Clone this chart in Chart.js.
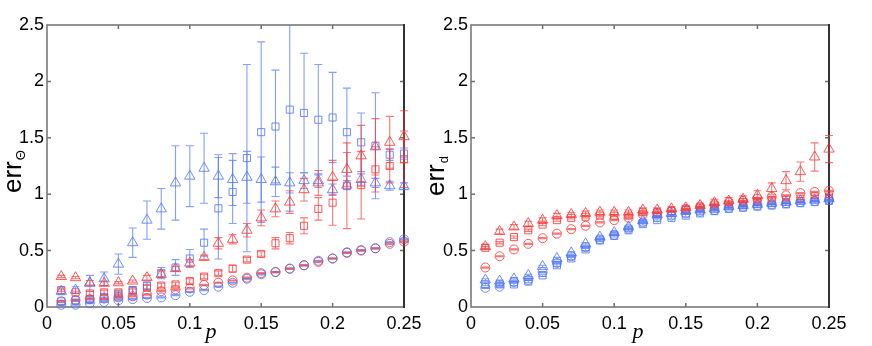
<!DOCTYPE html>
<html>
<head>
<meta charset="utf-8">
<script src="https://cdn.jsdelivr.net/npm/chart.js@4.4.1/dist/chart.umd.min.js"></script>
<style>
  html, body { margin: 0; padding: 0; background: #fff; }
  #wrap { position: relative; width: 872px; height: 346px; overflow: hidden; }
  canvas { position: absolute; top: 0; }
  #leftChart { left: 0; }
  #rightChart { left: 426px; }
</style>
</head>
<body>
<div id="wrap">
  <canvas id="leftChart" width="436" height="346"></canvas>
  <canvas id="rightChart" width="446" height="346"></canvas>
</div>
<script>
// ---- data ----
const pValues = [0.01, 0.02, 0.03, 0.04, 0.05, 0.06, 0.07, 0.08, 0.09, 0.10, 0.11, 0.12, 0.13,
                 0.14, 0.15, 0.16, 0.17, 0.18, 0.19, 0.20, 0.21, 0.22, 0.23, 0.24, 0.25];
const xTicks = [0, 0.05, 0.1, 0.15, 0.2, 0.25];
const xTickLabels = ['0', '0.05', '0.1', '0.15', '0.2', '0.25'];
const yTicks = [0, 0.5, 1, 1.5, 2, 2.5];
const yTickLabels = ['0', '0.5', '1', '1.5', '2', '2.5'];

// left panel: err_theta
const thetaBlueTri    = [0.14, 0.15, 0.21, 0.25, 0.38, 0.57, 0.77, 0.87, 1.10, 1.16, 1.23, 1.16, 1.13, 1.15, 1.13, 1.11, 1.10, 1.12, 1.12, 1.04, 1.08, 1.13, 1.10, 1.075, 1.07];
const thetaBlueTriErr = [0.03, 0.03, 0.07, 0.06, 0.09, 0.13, 0.17, 0.18, 0.33, 0.27, 0.31, 0.19, 0.23, 0.23, 0.20, 0.13, 0.09, 0.07, 0.06, 0.05, 0.04, 0.05, 0.04, 0.04, 0.03];
const thetaBlueSq     = [0.05, 0.06, 0.07, 0.09, 0.11, 0.15, 0.19, 0.30, 0.35, 0.43, 0.57, 0.875, 1.02, 1.32, 1.55, 1.60, 1.75, 1.72, 1.66, 1.68, 1.55, 1.46, 1.43, 1.35, 1.36];
const thetaBlueSqErr  = [0.01, 0.01, 0.02, 0.02, 0.02, 0.03, 0.03, 0.05, 0.07, 0.08, 0.12, 0.45, 0.28, 0.83, 0.80, 0.50, 0.90, 0.53, 0.49, 0.40, 0.39, 0.26, 0.47, 0.05, 0.05];
const thetaBlueCirc   = [0.02, 0.02, 0.035, 0.045, 0.06, 0.07, 0.08, 0.085, 0.105, 0.135, 0.15, 0.18, 0.215, 0.25, 0.29, 0.31, 0.34, 0.37, 0.41, 0.43, 0.485, 0.505, 0.52, 0.575, 0.60];
const thetaBlueCircErr = [0.005, 0.005, 0.005, 0.005, 0.005, 0.005, 0.005, 0.005, 0.005, 0.005, 0.005, 0.005, 0.005, 0.005, 0.005, 0.005, 0.005, 0.005, 0.005, 0.005, 0.005, 0.005, 0.005, 0.005, 0.005];
const thetaRedTri     = [0.27, 0.26, 0.215, 0.21, 0.215, 0.23, 0.26, 0.29, 0.34, 0.39, 0.44, 0.565, 0.60, 0.68, 0.79, 0.87, 0.93, 1.04, 1.10, 1.15, 1.22, 1.34, 1.42, 1.46, 1.51];
const thetaRedTriErr  = [0.01, 0.01, 0.02, 0.02, 0.01, 0.01, 0.02, 0.03, 0.02, 0.03, 0.02, 0.05, 0.04, 0.06, 0.07, 0.07, 0.10, 0.10, 0.11, 0.15, 0.15, 0.27, 0.25, 0.23, 0.23];
const thetaRedSq      = [0.15, 0.13, 0.12, 0.13, 0.13, 0.14, 0.17, 0.19, 0.20, 0.23, 0.27, 0.30, 0.34, 0.42, 0.47, 0.565, 0.61, 0.72, 0.87, 0.925, 1.075, 1.08, 1.22, 1.25, 1.31];
const thetaRedSqErr   = [0.01, 0.01, 0.02, 0.02, 0.02, 0.02, 0.02, 0.02, 0.02, 0.02, 0.02, 0.02, 0.03, 0.02, 0.02, 0.05, 0.05, 0.07, 0.10, 0.20, 0.38, 0.30, 0.20, 0.15, 0.25];
const thetaRedCirc    = [0.05, 0.06, 0.07, 0.075, 0.085, 0.095, 0.11, 0.14, 0.155, 0.165, 0.195, 0.215, 0.235, 0.26, 0.30, 0.31, 0.34, 0.37, 0.40, 0.43, 0.48, 0.50, 0.52, 0.56, 0.58];
const thetaRedCircErr = [0.005, 0.005, 0.005, 0.005, 0.005, 0.005, 0.005, 0.005, 0.005, 0.005, 0.005, 0.005, 0.005, 0.005, 0.005, 0.005, 0.005, 0.005, 0.005, 0.005, 0.005, 0.005, 0.005, 0.005, 0.005];

// right panel: err_d
const dBlueTri     = [0.24, 0.23, 0.25, 0.28, 0.36, 0.43, 0.48, 0.56, 0.62, 0.66, 0.71, 0.765, 0.82, 0.83, 0.85, 0.86, 0.87, 0.89, 0.90, 0.91, 0.92, 0.93, 0.94, 0.95, 0.96];
const dBlueTriErr  = [0.01, 0.01, 0.01, 0.01, 0.01, 0.01, 0.01, 0.01, 0.01, 0.01, 0.01, 0.01, 0.01, 0.01, 0.01, 0.01, 0.01, 0.01, 0.01, 0.01, 0.01, 0.01, 0.01, 0.01, 0.01];
const dBlueSq      = [0.20, 0.20, 0.20, 0.225, 0.28, 0.37, 0.43, 0.51, 0.59, 0.63, 0.68, 0.735, 0.77, 0.79, 0.81, 0.83, 0.85, 0.87, 0.88, 0.89, 0.90, 0.91, 0.92, 0.93, 0.94];
const dBlueSqErr   = [0.01, 0.01, 0.01, 0.01, 0.01, 0.01, 0.01, 0.01, 0.01, 0.01, 0.01, 0.01, 0.01, 0.01, 0.01, 0.01, 0.01, 0.01, 0.01, 0.01, 0.01, 0.01, 0.01, 0.01, 0.01];
const dBlueCirc    = [0.17, 0.18, 0.22, 0.24, 0.31, 0.39, 0.45, 0.53, 0.60, 0.64, 0.695, 0.75, 0.795, 0.81, 0.83, 0.845, 0.86, 0.88, 0.89, 0.90, 0.91, 0.92, 0.93, 0.94, 0.95];
const dBlueCircErr = [0.005, 0.005, 0.005, 0.005, 0.005, 0.005, 0.005, 0.005, 0.005, 0.005, 0.005, 0.005, 0.005, 0.005, 0.005, 0.005, 0.005, 0.005, 0.005, 0.005, 0.005, 0.005, 0.005, 0.005, 0.005];
const dRedTri      = [0.535, 0.67, 0.71, 0.74, 0.77, 0.81, 0.82, 0.83, 0.84, 0.84, 0.84, 0.86, 0.86, 0.87, 0.88, 0.90, 0.925, 0.94, 0.955, 0.99, 1.05, 1.12, 1.20, 1.33, 1.40];
const dRedTriErr   = [0.02, 0.02, 0.02, 0.02, 0.02, 0.02, 0.02, 0.02, 0.02, 0.02, 0.02, 0.02, 0.02, 0.02, 0.02, 0.02, 0.03, 0.03, 0.03, 0.04, 0.05, 0.08, 0.085, 0.125, 0.12];
const dRedSq       = [0.525, 0.57, 0.62, 0.68, 0.73, 0.77, 0.79, 0.80, 0.81, 0.81, 0.81, 0.84, 0.84, 0.85, 0.86, 0.88, 0.90, 0.91, 0.93, 0.94, 0.95, 0.95, 0.96, 0.98, 0.98];
const dRedSqErr    = [0.01, 0.01, 0.01, 0.01, 0.01, 0.01, 0.01, 0.01, 0.01, 0.01, 0.01, 0.01, 0.01, 0.01, 0.01, 0.01, 0.01, 0.01, 0.01, 0.01, 0.01, 0.01, 0.01, 0.01, 0.01];
const dRedCirc     = [0.35, 0.45, 0.51, 0.56, 0.61, 0.65, 0.69, 0.72, 0.75, 0.77, 0.79, 0.82, 0.83, 0.85, 0.87, 0.89, 0.91, 0.93, 0.94, 0.96, 0.977, 0.99, 1.01, 1.02, 1.03];
const dRedCircErr  = [0.005, 0.005, 0.005, 0.005, 0.005, 0.005, 0.005, 0.005, 0.005, 0.005, 0.005, 0.005, 0.005, 0.005, 0.005, 0.005, 0.005, 0.005, 0.005, 0.005, 0.005, 0.005, 0.005, 0.005, 0.005];

// ---- styles ----
const BLUE = 'rgba(70, 110, 248, 0.78)';
const RED = 'rgba(250, 45, 45, 0.78)';
const BLUE_BAR = 'rgba(80, 120, 250, 0.7)';
const RED_BAR = 'rgba(250, 60, 60, 0.7)';
const TICK_FONT = { family: '"Liberation Sans", Arial, sans-serif', size: 18 };

// draws vertical error bars with caps, using the chart's own scales
const errorBarPlugin = {
  id: 'errorBars',
  afterDatasetsDraw(chart) {
    const { ctx, chartArea: a, scales: { x, y } } = chart;
    ctx.save();
    ctx.beginPath();
    ctx.rect(a.left - 10, a.top, a.right - a.left + 20, a.bottom - a.top + 10);
    ctx.clip();
    chart.data.datasets.forEach(ds => {
      if (!ds.errors) return;
      ctx.strokeStyle = ds.barColor;
      ctx.lineWidth = 1.1;
      ds.data.forEach((pt, i) => {
        const e = ds.errors[i];
        const px = x.getPixelForValue(pt.x);
        const top = y.getPixelForValue(pt.y + e);
        const bot = y.getPixelForValue(pt.y - e);
        ctx.beginPath();
        ctx.moveTo(px, top); ctx.lineTo(px, bot);
        ctx.moveTo(px - 4, top); ctx.lineTo(px + 4, top);
        ctx.moveTo(px - 4, bot); ctx.lineTo(px + 4, bot);
        ctx.stroke();
      });
    });
    ctx.restore();
  }
};

// axes box with inward ticks on all four sides, plus axis titles
const framePlugin = {
  id: 'frame',
  beforeDatasetsDraw(chart) {
    const { ctx, chartArea: a, scales: { x, y } } = chart;
    const t = 4;
    ctx.save();
    ctx.strokeStyle = '#707070';
    ctx.lineWidth = 1.5;
    ctx.beginPath();
    ctx.moveTo(a.right, a.top); ctx.lineTo(a.left, a.top);
    ctx.lineTo(a.left, a.bottom); ctx.lineTo(a.right, a.bottom);
    x.ticks.forEach(tk => {
      const px = x.getPixelForValue(tk.value);
      ctx.moveTo(px, a.bottom); ctx.lineTo(px, a.bottom - t);
      ctx.moveTo(px, a.top); ctx.lineTo(px, a.top + t);
    });
    y.ticks.forEach(tk => {
      const py = y.getPixelForValue(tk.value);
      ctx.moveTo(a.left, py); ctx.lineTo(a.left + t, py);
      ctx.moveTo(a.right, py); ctx.lineTo(a.right - t, py);
    });
    ctx.stroke();
    ctx.strokeStyle = '#333';
    ctx.lineWidth = 2;
    ctx.beginPath();
    ctx.moveTo(a.right, a.top - 1); ctx.lineTo(a.right, a.bottom + 1);
    ctx.stroke();
    ctx.restore();
  },
  afterDraw(chart, args, opts) {
    const { ctx } = chart;
    ctx.save();
    ctx.fillStyle = '#000';
    // y title, rotated, with subscript
    ctx.translate(opts.yTitleX, opts.yTitleY);
    ctx.rotate(-Math.PI / 2);
    ctx.font = '26px "Liberation Sans", Arial, sans-serif';
    ctx.textBaseline = 'alphabetic';
    ctx.textAlign = 'left';
    ctx.fillText('err', 0, 0);
    const w = ctx.measureText('err').width;
    ctx.font = '13px "Liberation Sans", Arial, sans-serif';
    ctx.fillText(opts.ySub, w + 1, 4);
    ctx.restore();
    // x title
    ctx.save();
    ctx.fillStyle = '#000';
    ctx.font = 'italic 22px "Liberation Serif", "Times New Roman", serif';
    ctx.textAlign = 'center';
    ctx.fillText('p', opts.xTitleX, opts.xTitleY);
    ctx.restore();
  }
};

function makeDataset(values, errors, color, barColor, style, radius) {
  return {
    data: pValues.map((p, i) => ({ x: p, y: values[i] })),
    errors: errors,
    barColor: barColor,
    borderColor: color,
    backgroundColor: 'rgba(0,0,0,0)',
    pointStyle: style,
    pointRadius: radius,
    pointHoverRadius: radius,
    pointBorderWidth: 1,
    showLine: false,
    clip: false
  };
}

function makeChart(canvasId, series, yAxisWidth, padRight, frameOpts) {
  const canvas = document.getElementById(canvasId);
  return new Chart(canvas, {
    type: 'scatter',
    data: {
      datasets: [
        makeDataset(series.blueCirc, series.blueCircErr, BLUE, BLUE_BAR, 'circle', 4.5),
        makeDataset(series.blueSq, series.blueSqErr, BLUE, BLUE_BAR, 'rect', 5),
        makeDataset(series.blueTri, series.blueTriErr, BLUE, BLUE_BAR, 'triangle', 6),
        makeDataset(series.redCirc, series.redCircErr, RED, RED_BAR, 'circle', 4.5),
        makeDataset(series.redSq, series.redSqErr, RED, RED_BAR, 'rect', 5),
        makeDataset(series.redTri, series.redTriErr, RED, RED_BAR, 'triangle', 6)
      ]
    },
    options: {
      responsive: false,
      animation: false,
      events: [],
      layout: { padding: { top: 25, right: padRight, left: 0, bottom: 0 } },
      scales: {
        x: {
          type: 'linear',
          min: 0,
          max: 0.25,
          afterBuildTicks: scale => { scale.ticks = xTicks.map(v => ({ value: v })); },
          afterFit: scale => { scale.height = 39; },
          grid: { display: false, drawTicks: false },
          border: { display: false },
          ticks: {
            font: TICK_FONT,
            color: '#000',
            padding: 6,
            maxRotation: 0,
            autoSkip: false,
            callback: (v, i) => xTickLabels[i]
          }
        },
        y: {
          type: 'linear',
          min: 0,
          max: 2.5,
          afterBuildTicks: scale => { scale.ticks = yTicks.map(v => ({ value: v })); },
          afterFit: scale => { scale.width = yAxisWidth; },
          grid: { display: false, drawTicks: false },
          border: { display: false },
          ticks: {
            font: TICK_FONT,
            color: '#000',
            padding: 3,
            autoSkip: false,
            callback: (v, i) => yTickLabels[i]
          }
        }
      },
      plugins: {
        legend: { display: false },
        tooltip: { enabled: false },
        frame: frameOpts
      }
    },
    plugins: [framePlugin, errorBarPlugin]
  });
}

makeChart('leftChart', {
  blueTri: thetaBlueTri, blueTriErr: thetaBlueTriErr,
  blueSq: thetaBlueSq, blueSqErr: thetaBlueSqErr,
  blueCirc: thetaBlueCirc, blueCircErr: thetaBlueCircErr,
  redTri: thetaRedTri, redTriErr: thetaRedTriErr,
  redSq: thetaRedSq, redSqErr: thetaRedSqErr,
  redCirc: thetaRedCirc, redCircErr: thetaRedCircErr
}, 47, 32, { yTitleX: 21, yTitleY: 193, ySub: 'Θ', xTitleX: 211, xTitleY: 338 });

makeChart('rightChart', {
  blueTri: dBlueTri, blueTriErr: dBlueTriErr,
  blueSq: dBlueSq, blueSqErr: dBlueSqErr,
  blueCirc: dBlueCirc, blueCircErr: dBlueCircErr,
  redTri: dRedTri, redTriErr: dRedTriErr,
  redSq: dRedSq, redSqErr: dRedSqErr,
  redCirc: dRedCirc, redCircErr: dRedCircErr
}, 45, 43, { yTitleX: 18, yTitleY: 196, ySub: 'd', xTitleX: 212, xTitleY: 338 });
</script>
</body>
</html>
